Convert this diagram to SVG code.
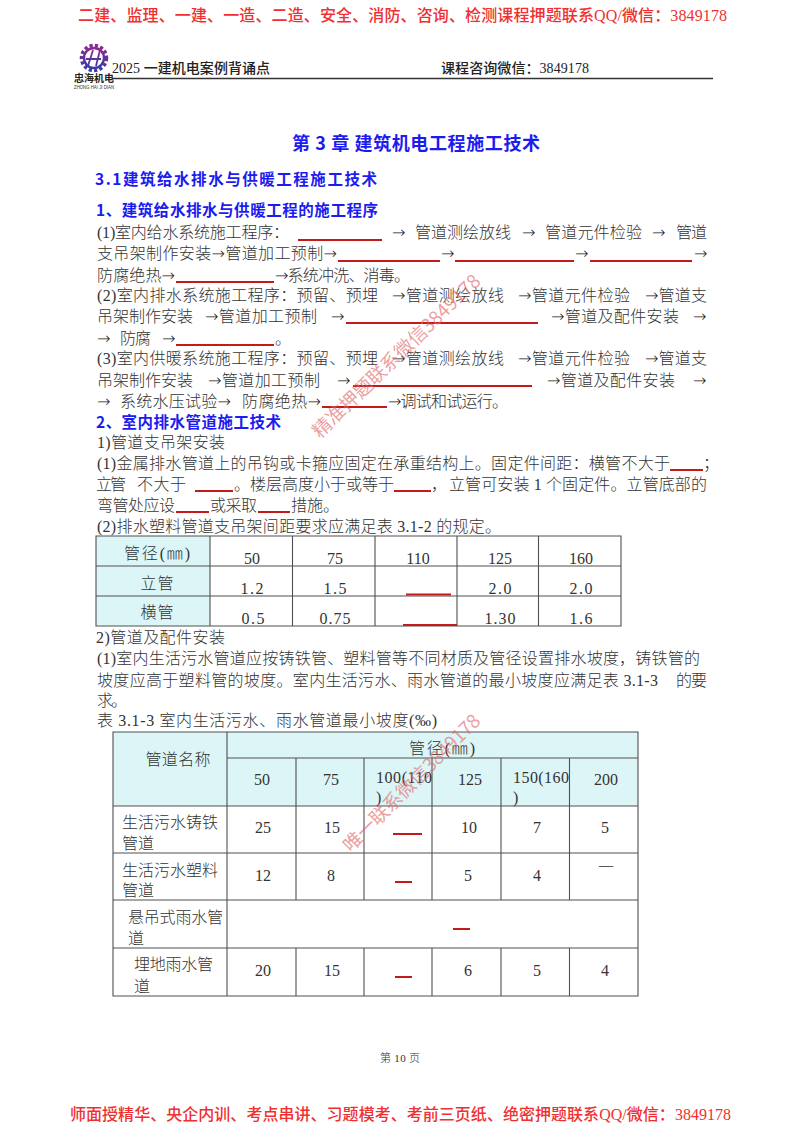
<svg xmlns="http://www.w3.org/2000/svg" width="800" height="1132" viewBox="0 0 800 1132">
<style>
text{font-family:"Liberation Serif","Noto Sans CJK SC",serif;fill:#333;font-size:16px;font-weight:300}
.ar{font-family:"DejaVu Sans",sans-serif;fill:#222}
.red{fill:#f03030;font-weight:500}
.hd{fill:#222;font-size:14px;font-weight:500}
.blue{font-family:"Noto Sans CJK SC",sans-serif;fill:#1c1cf0;font-weight:700;font-size:15.5px}
.c{text-anchor:middle}
.bl{stroke:#c41a1a;stroke-width:1.8;fill:none}
.g{stroke:#505050;stroke-width:1.1;fill:none}
.fill{fill:#dcf5f7}
.wm{font-family:"Noto Sans CJK SC",sans-serif;fill:#e26a6a;fill-opacity:.65;font-size:19px;font-weight:400}
</style>
<defs><linearGradient id="lg" x1="0" y1="0" x2="0" y2="1"><stop offset="0" stop-color="#8a2a8e"/><stop offset="1" stop-color="#3a3aa8"/></linearGradient></defs>
<rect width="800" height="1132" fill="#fff"/>
<text class="red" x="78" y="21" textLength="649">二建、监理、一建、一造、二造、安全、消防、咨询、检测课程押题联系QQ/微信：3849178</text>
<g id="logo">
<circle cx="94" cy="58" r="12.500" fill="none" stroke="url(#lg)" stroke-width="3.500" stroke-dasharray="3.2 2.2"/>
<circle cx="94" cy="58" r="10" fill="none" stroke="url(#lg)" stroke-width="2.400"/>
<path d="M88 66L93 50M96 66L100 50M86 59H101" fill="none" stroke="url(#lg)" stroke-width="1.800"/>
<text x="74" y="82" textLength="40" lengthAdjust="spacingAndGlyphs" style="font-family:'Noto Sans CJK SC',sans-serif;font-size:10px;font-weight:700;fill:#222">忠海机电</text>
<text x="74" y="89" textLength="40" lengthAdjust="spacingAndGlyphs" style="font-family:'Liberation Sans',sans-serif;font-size:4.5px;font-weight:400;fill:#333">ZHONG HAI JI DIAN</text>
</g>
<text class="hd" x="112" y="73" textLength="158">2025 一建机电案例背诵点</text>
<text class="hd" x="441" y="73" textLength="148">课程咨询微信：3849178</text>
<line x1="112" y1="78.500" x2="713" y2="78.500" stroke="#333" stroke-width="1.300"/>
<text class="blue" x="292" y="150" textLength="248" style="font-size:18px">第 3 章 建筑机电工程施工技术</text>
<text class="blue" x="95" y="185" textLength="282">3.1建筑给水排水与供暖工程施工技术</text>
<text class="blue" x="96" y="216" textLength="282">1、建筑给水排水与供暖工程的施工程序</text>
<g id="para1">
<text x="97" y="238" textLength="192">(1)室内给水系统施工程序：</text>
<text class="ar" x="392" y="238">→</text>
<text x="415" y="238" textLength="96">管道测绘放线</text>
<text class="ar" x="522" y="238">→</text>
<text x="545" y="238" textLength="97">管道元件检验</text>
<text class="ar" x="652" y="238">→</text>
<text x="676" y="238" textLength="31">管道</text>
<text x="97" y="259" textLength="240">支吊架制作安装<tspan class="ar">→</tspan>管道加工预制<tspan class="ar">→</tspan></text>
<text class="ar" x="441" y="259">→</text>
<text class="ar" x="575" y="259">→</text>
<text class="ar" x="694" y="259">→</text>
<text x="97" y="281" textLength="78">防腐绝热<tspan class="ar">→</tspan></text>
<text x="275" y="281" textLength="135"><tspan class="ar">→</tspan>系统冲洗、消毒。</text>
<text x="97" y="301" textLength="281">(2)室内排水系统施工程序：预留、预埋</text>
<text x="392" y="301" textLength="112"><tspan class="ar">→</tspan>管道测绘放线</text>
<text x="518" y="301" textLength="112"><tspan class="ar">→</tspan>管道元件检验</text>
<text x="645" y="301" textLength="62"><tspan class="ar">→</tspan>管道支</text>
<text x="97" y="322" textLength="96">吊架制作安装</text>
<text x="205" y="322" textLength="112"><tspan class="ar">→</tspan>管道加工预制</text>
<text class="ar" x="331" y="322">→</text>
<text x="551" y="322" textLength="128"><tspan class="ar">→</tspan>管道及配件安装</text>
<text class="ar" x="693" y="322">→</text>
<text class="ar" x="97" y="344">→</text>
<text x="120" y="344" textLength="31">防腐</text>
<text class="ar" x="162" y="344">→</text>
<text x="275" y="344">。</text>
<text x="97" y="364" textLength="281">(3)室内供暖系统施工程序：预留、预埋</text>
<text x="392" y="364" textLength="112"><tspan class="ar">→</tspan>管道测绘放线</text>
<text x="518" y="364" textLength="112"><tspan class="ar">→</tspan>管道元件检验</text>
<text x="645" y="364" textLength="62"><tspan class="ar">→</tspan>管道支</text>
<text x="97" y="386" textLength="96">吊架制作安装</text>
<text x="208" y="386" textLength="112"><tspan class="ar">→</tspan>管道加工预制</text>
<text class="ar" x="337" y="386">→</text>
<text x="547" y="386" textLength="128"><tspan class="ar">→</tspan>管道及配件安装</text>
<text class="ar" x="693" y="386">→</text>
<text class="ar" x="97" y="407">→</text>
<text x="120" y="407" textLength="111">系统水压试验<tspan class="ar">→</tspan></text>
<text x="242" y="407" textLength="79">防腐绝热<tspan class="ar">→</tspan></text>
<text x="388" y="407" textLength="120"><tspan class="ar">→</tspan>调试和试运行。</text>
</g>
<path class="bl" d="M298 240H382M338 261H440M455 261H574M590 261H692M176 282H274M346 323H538M176 345H274M353 386H532M322 407H387M670 470H703M195 491H233M394 491H431M176 512H209M258 512H290M406 594.500H451M403 625H457M393 834H422M395 882H412M453 929H470M395 977H412"/>
<text class="blue" x="96" y="428" textLength="185">2、室内排水管道施工技术</text>
<g id="para2">
<text x="97" y="448" textLength="128">1)管道支吊架安装</text>
<text x="97" y="469" textLength="573">(1)金属排水管道上的吊钩或卡箍应固定在承重结构上。固定件间距：横管不大于</text>
<text x="703" y="469">；</text>
<text x="96" y="490" textLength="30">立管</text>
<text x="137" y="490" textLength="49">不大于</text>
<text x="234" y="490" textLength="160">。楼层高度小于或等于</text>
<text x="431" y="490">，</text>
<text x="449" y="490" textLength="258">立管可安装 1 个固定件。立管底部的</text>
<text x="97" y="511" textLength="78">弯管处应设</text>
<text x="210" y="511" textLength="47">或采取</text>
<text x="291" y="511" textLength="48">措施。</text>
<text x="97" y="532" textLength="404">(2)排水塑料管道支吊架间距要求应满足表 3.1-2 的规定。</text>
</g>
<g id="table1">
<rect class="fill" x="96" y="536" width="114" height="90"/>
<path class="g" d="M96 536H621V626H96ZM96 566H621M96 596H621M210 536V626M292.500 536V626M375 536V626M457 536V626M538.500 536V626"/>
<text x="157" y="559" class="c" textLength="66">管径(㎜)</text>
<text x="157" y="589" class="c" textLength="33">立管</text>
<text x="157" y="618" class="c" textLength="33">横管</text>
<text x="252" y="564" class="c">50</text><text x="335" y="564" class="c">75</text><text x="418" y="564" class="c">110</text><text x="500" y="564" class="c">125</text><text x="581" y="564" class="c">160</text>
<text x="252" y="594" class="c" textLength="23">1.2</text><text x="335" y="594" class="c" textLength="23">1.5</text><text x="500" y="594" class="c" textLength="23">2.0</text><text x="581" y="594" class="c" textLength="23">2.0</text>
<text x="253" y="624" class="c" textLength="23">0.5</text><text x="335" y="624" class="c" textLength="31">0.75</text><text x="500" y="624" class="c" textLength="31">1.30</text><text x="581" y="624" class="c" textLength="23">1.6</text>
</g>
<g id="para3">
<text x="96" y="643" textLength="129">2)管道及配件安装</text>
<text x="97" y="664" textLength="603">(1)室内生活污水管道应按铸铁管、塑料管等不同材质及管径设置排水坡度，铸铁管的</text>
<text x="97" y="686" textLength="561">坡度应高于塑料管的坡度。室内生活污水、雨水管道的最小坡度应满足表 3.1-3</text>
<text x="676" y="686" textLength="31">的要</text>
<text x="97" y="706" textLength="30">求。</text>
<text x="97" y="726" textLength="340">表 3.1-3 室内生活污水、雨水管道最小坡度(‰)</text>
</g>
<g id="table2">
<rect class="fill" x="113" y="732" width="525" height="74"/>
<path class="g" d="M113 732H638V996H113ZM227 758H638M113 806H638M113 853H638M113 900H638M113 948H638M227 732V996M296 758V900M364 758V900M432 758V900M501 758V900M569.500 758V900M296 948V996M364 948V996M432 948V996M501 948V996M569.500 948V996"/>
<text x="178" y="765" class="c" textLength="65">管道名称</text>
<text x="442" y="754" class="c" textLength="66">管径(㎜)</text>
<text x="262" y="785" class="c">50</text><text x="331" y="785" class="c">75</text>
<text x="376" y="783" textLength="56">100(110</text><text x="376" y="803">)</text>
<text x="470" y="785" class="c">125</text>
<text x="513" y="783" textLength="56">150(160</text><text x="513" y="803">)</text>
<text x="606" y="785" class="c">200</text>
<text x="122" y="828" textLength="96">生活污水铸铁</text><text x="122" y="849" textLength="32">管道</text>
<text x="263" y="833" class="c">25</text><text x="332" y="833" class="c">15</text><text x="469" y="833" class="c">10</text><text x="537" y="833" class="c">7</text><text x="605" y="833" class="c">5</text>
<text x="122" y="876" textLength="96">生活污水塑料</text><text x="122" y="896" textLength="32">管道</text>
<text x="263" y="881" class="c">12</text><text x="331" y="881" class="c">8</text><text x="468" y="881" class="c">5</text><text x="537" y="881" class="c">4</text><text x="606" y="873" class="c">一</text>
<text x="128" y="923" textLength="95">悬吊式雨水管</text><text x="128" y="944">道</text>
<text x="134" y="970" textLength="79">埋地雨水管</text><text x="134" y="992">道</text>
<text x="263" y="976" class="c">20</text><text x="332" y="976" class="c">15</text><text x="468" y="976" class="c">6</text><text x="537" y="976" class="c">5</text><text x="605" y="976" class="c">4</text>
</g>
<text class="wm" transform="translate(320 439) rotate(-44)" textLength="225">精准押题联系微信3849178</text>
<text class="wm" transform="translate(351 853) rotate(-45)" textLength="185">唯一联系微信3849178</text>
<text x="400" y="1062" class="c" style="font-size:11px" textLength="40">第 10 页</text>
<text class="red" x="70" y="1120" textLength="661">师面授精华、央企内训、考点串讲、习题模考、考前三页纸、绝密押题联系QQ/微信：3849178</text>
</svg>
